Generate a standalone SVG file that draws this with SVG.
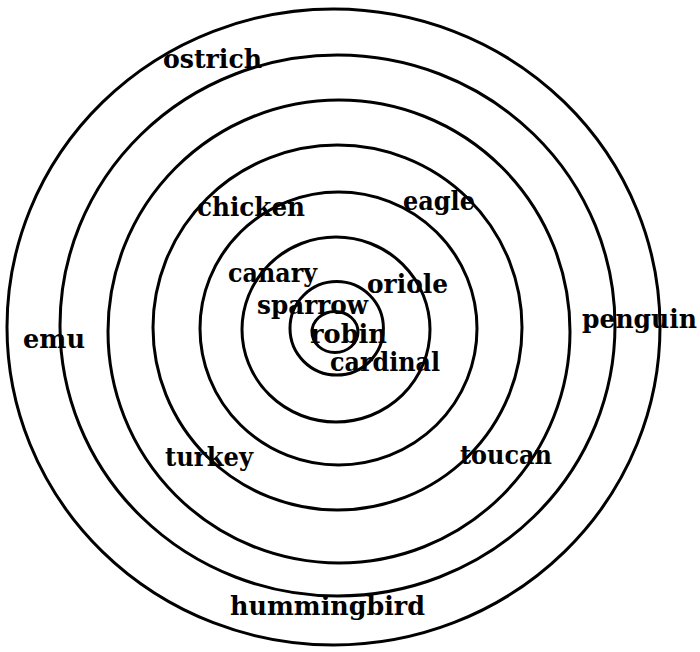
<svg xmlns="http://www.w3.org/2000/svg" width="700" height="652" viewBox="0 0 700 652">
<style>
.ring{fill:none;stroke:#000;stroke-width:3}
.lbl{font-family:"DejaVu Serif","Liberation Serif",serif;font-weight:bold;font-size:26px;fill:#000}
</style>
<rect width="700" height="652" fill="#fff"/>
<g id="rings">
<ellipse class="ring" cx="333.5" cy="327" rx="326.5" ry="318"/>
<ellipse class="ring" cx="337.5" cy="325.5" rx="277.5" ry="270.5"/>
<ellipse class="ring" cx="339" cy="331.5" rx="231" ry="231.5"/>
<ellipse class="ring" cx="337.5" cy="327.5" rx="184.5" ry="182.5"/>
<ellipse class="ring" cx="338.5" cy="328.5" rx="138.5" ry="136.5"/>
<ellipse class="ring" cx="336" cy="329.5" rx="94" ry="92.5"/>
<ellipse class="ring" cx="336.7" cy="328.3" rx="46.7" ry="46.7"/>
<ellipse class="ring" cx="335" cy="332" rx="23" ry="20.5"/>
</g>
<g id="labels">
<text class="lbl" x="163" y="68" textLength="99" lengthAdjust="spacingAndGlyphs">ostrich</text>
<text class="lbl" x="197" y="216" textLength="108" lengthAdjust="spacingAndGlyphs">chicken</text>
<text class="lbl" x="403" y="210" textLength="72" lengthAdjust="spacingAndGlyphs">eagle</text>
<text class="lbl" x="228" y="282" textLength="89" lengthAdjust="spacingAndGlyphs">canary</text>
<text class="lbl" x="367" y="293" textLength="81" lengthAdjust="spacingAndGlyphs">oriole</text>
<text class="lbl" x="257" y="314" textLength="111" lengthAdjust="spacingAndGlyphs">sparrow</text>
<text class="lbl" x="310" y="343" textLength="77" lengthAdjust="spacingAndGlyphs">robin</text>
<text class="lbl" x="330" y="371" textLength="110" lengthAdjust="spacingAndGlyphs">cardinal</text>
<text class="lbl" x="23" y="348" textLength="62" lengthAdjust="spacingAndGlyphs">emu</text>
<text class="lbl" x="582" y="328" textLength="115" lengthAdjust="spacingAndGlyphs">penguin</text>
<text class="lbl" x="165" y="466" textLength="88" lengthAdjust="spacingAndGlyphs">turkey</text>
<text class="lbl" x="460" y="464" textLength="92" lengthAdjust="spacingAndGlyphs">toucan</text>
<text class="lbl" x="230" y="615" textLength="195" lengthAdjust="spacingAndGlyphs">hummingbird</text>
</g>
</svg>
